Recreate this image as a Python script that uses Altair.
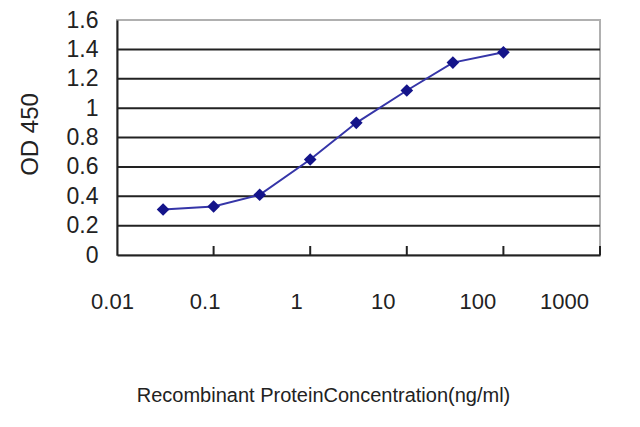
import altair as alt
import pandas as pd

conc = [0.03, 0.1, 0.3, 1, 3, 10, 30, 100]
od = [0.31, 0.33, 0.41, 0.65, 0.90, 1.12, 1.31, 1.38]
x_ticks = [0.01, 0.1, 1, 10, 100, 1000]
y_ticks = [0, 0.2, 0.4, 0.6, 0.8, 1.0, 1.2, 1.4, 1.6]
grid_vals = [0.2, 0.4, 0.6, 0.8, 1.0, 1.2, 1.4]

df = pd.DataFrame({"conc": conc, "od": od})
tick_df = pd.DataFrame({"t": x_ticks[1:]})
grid_df = pd.DataFrame({"g": grid_vals})

FONT = "Liberation Sans, Arial"

xscale = alt.Scale(type="log", domain=[0.01, 1000], nice=False)
yscale = alt.Scale(domain=[0, 1.6], nice=False)

# labels in the reference sit slightly left of their ticks
x_label_shift = [-5, -9, -14, -24, -26, -36]
label_offset = {
    "condition": [
        {"test": f"abs(datum.value - {v}) < {v} * 0.01", "value": s}
        for v, s in zip(x_ticks, x_label_shift)
    ],
    "value": 0,
}

xaxis = alt.Axis(
    values=x_ticks, format="~g", grid=False, ticks=False, labelOverlap=False,
    labelFlush=False, labelOffset=label_offset,
    labelPadding=36, labelFontSize=22, labelFont=FONT, labelColor="#222",
    domainColor="#222", domainWidth=2,
    title="Recombinant ProteinConcentration(ng/ml)", titleFont=FONT,
    titleFontSize=20, titleFontWeight="normal", titleColor="#222",
    titleX=206, titleY=140, titleAnchor="start", titleAlign="center",
    titleBaseline="middle",
)
yaxis = alt.Axis(
    values=y_ticks, format="~g", grid=False, ticks=False, labelOverlap=False,
    labelFlush=False,
    labelPadding=19, labelFontSize=23, labelFont=FONT, labelColor="#222",
    domainColor="#222", domainWidth=2,
    title="OD 450", titleFont=FONT, titleFontSize=24,
    titleFontWeight="normal", titleColor="#222",
    titleX=-87, titleY=114, titleAngle=270, titleAlign="center",
    titleBaseline="middle", titleAnchor="start",
)

grid = alt.Chart(grid_df).mark_rule(color="#222", strokeWidth=2).encode(
    y=alt.Y("g:Q", scale=yscale, axis=yaxis),
)

ticks = alt.Chart(tick_df).mark_rule(color="#222", strokeWidth=2).encode(
    x=alt.X("t:Q", scale=xscale, axis=xaxis),
    y=alt.value(235),
    y2=alt.value(226),
)

line = alt.Chart(df).mark_line(color="#3535a8", strokeWidth=2).encode(
    x=alt.X("conc:Q", scale=xscale, axis=xaxis),
    y=alt.Y("od:Q", scale=yscale, axis=yaxis),
)
pts = alt.Chart(df).mark_point(shape="diamond", filled=True, size=160,
                                color="#14148a", opacity=1).encode(
    x=alt.X("conc:Q", scale=xscale, axis=xaxis),
    y=alt.Y("od:Q", scale=yscale, axis=yaxis),
)

chart = alt.layer(grid, ticks, line, pts).properties(
    width=483, height=235,
    autosize=alt.AutoSizeParams(type="none"),
    padding={"left": 109, "top": 12, "right": 32, "bottom": 164},
    background="white",
).configure_view(stroke="#b0b0b0", strokeWidth=2)

chart.save("out.html", embed_options={"renderer": "svg", "actions": False})
